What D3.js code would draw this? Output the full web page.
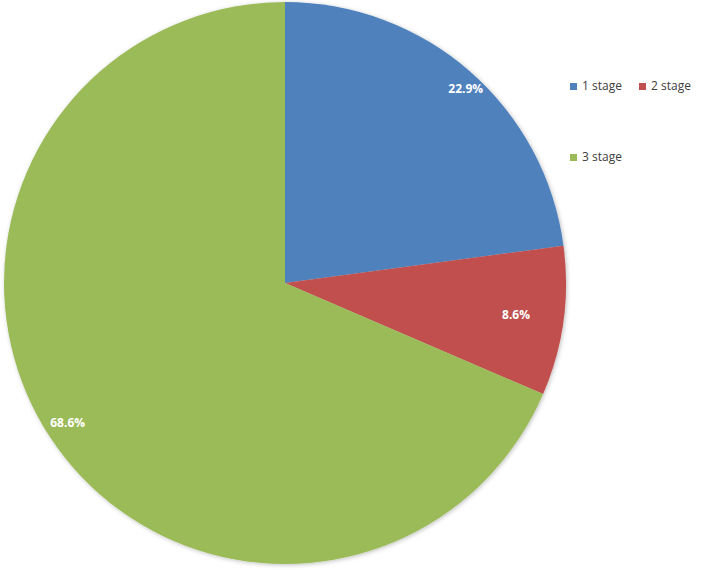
<!DOCTYPE html>
<html>
<head>
<meta charset="utf-8">
<script src="https://cdn.jsdelivr.net/npm/d3@7/dist/d3.min.js"></script>
<style>
html,body{margin:0;padding:0;background:#fff;}
svg{display:block;}
</style>
</head>
<body>
<svg id="chart" width="701" height="570"></svg>
<script>
const categories = ["1 stage", "2 stage", "3 stage"];
const values = [22.9, 8.6, 68.6];
const labels = ["22.9%", "8.6%", "68.6%"];

const colors = ["#4F81BD", "#C0504D", "#9BBB59"];
const labelRadiusFactor = [0.945, 0.83, 0.92];
const labelAngleNudge = [0.03, 0, 0.01];

const svg = d3.select("#chart");
const cx = 285, cy = 283, r = 281;

const defs = svg.append("defs");
const f = defs.append("filter").attr("id","sh").attr("x","-10%").attr("y","-10%").attr("width","120%").attr("height","120%");
f.append("feDropShadow").attr("dx",1).attr("dy",1).attr("stdDeviation",2).attr("flood-color","#000").attr("flood-opacity",0.25);

const pie = d3.pie().sort(null).value(d => d)(values);
const arc = d3.arc().innerRadius(0).outerRadius(r);

const g = svg.append("g").attr("transform", `translate(${cx},${cy})`);
g.append("g").attr("filter","url(#sh)")
 .selectAll("path").data(pie).join("path")
 .attr("d", arc)
 .attr("fill", (d,i) => colors[i]);

g.selectAll("text.lbl").data(pie).join("text")
 .attr("class","lbl")
 .attr("transform", (d,i) => {
   const a = (d.startAngle + d.endAngle)/2 + labelAngleNudge[i];
   const rr = r * labelRadiusFactor[i];
   return `translate(${Math.sin(a)*rr},${-Math.cos(a)*rr})`;
 })
 .attr("text-anchor","middle")
 .attr("dy","0.35em")
 .attr("fill","#fff")
 .attr("font-family","'Open Sans', 'Liberation Sans', sans-serif")
 .attr("font-weight","bold")
 .attr("font-size","12px")
 .text((d,i) => labels[i]);

// legend
const legendPos = [[570,86],[639,86],[570,157]];
const lg = svg.append("g");
categories.forEach((c,i) => {
  const [x,y] = legendPos[i];
  lg.append("rect").attr("x",x).attr("y",y-3).attr("width",7).attr("height",7).attr("fill",colors[i]);
  lg.append("text").attr("x",x+12).attr("y",y).attr("dy","0.35em")
    .attr("font-family","'Open Sans', 'Liberation Sans', sans-serif")
    .attr("font-size","12px").attr("fill","#404040").text(c);
});
</script>
</body>
</html>
